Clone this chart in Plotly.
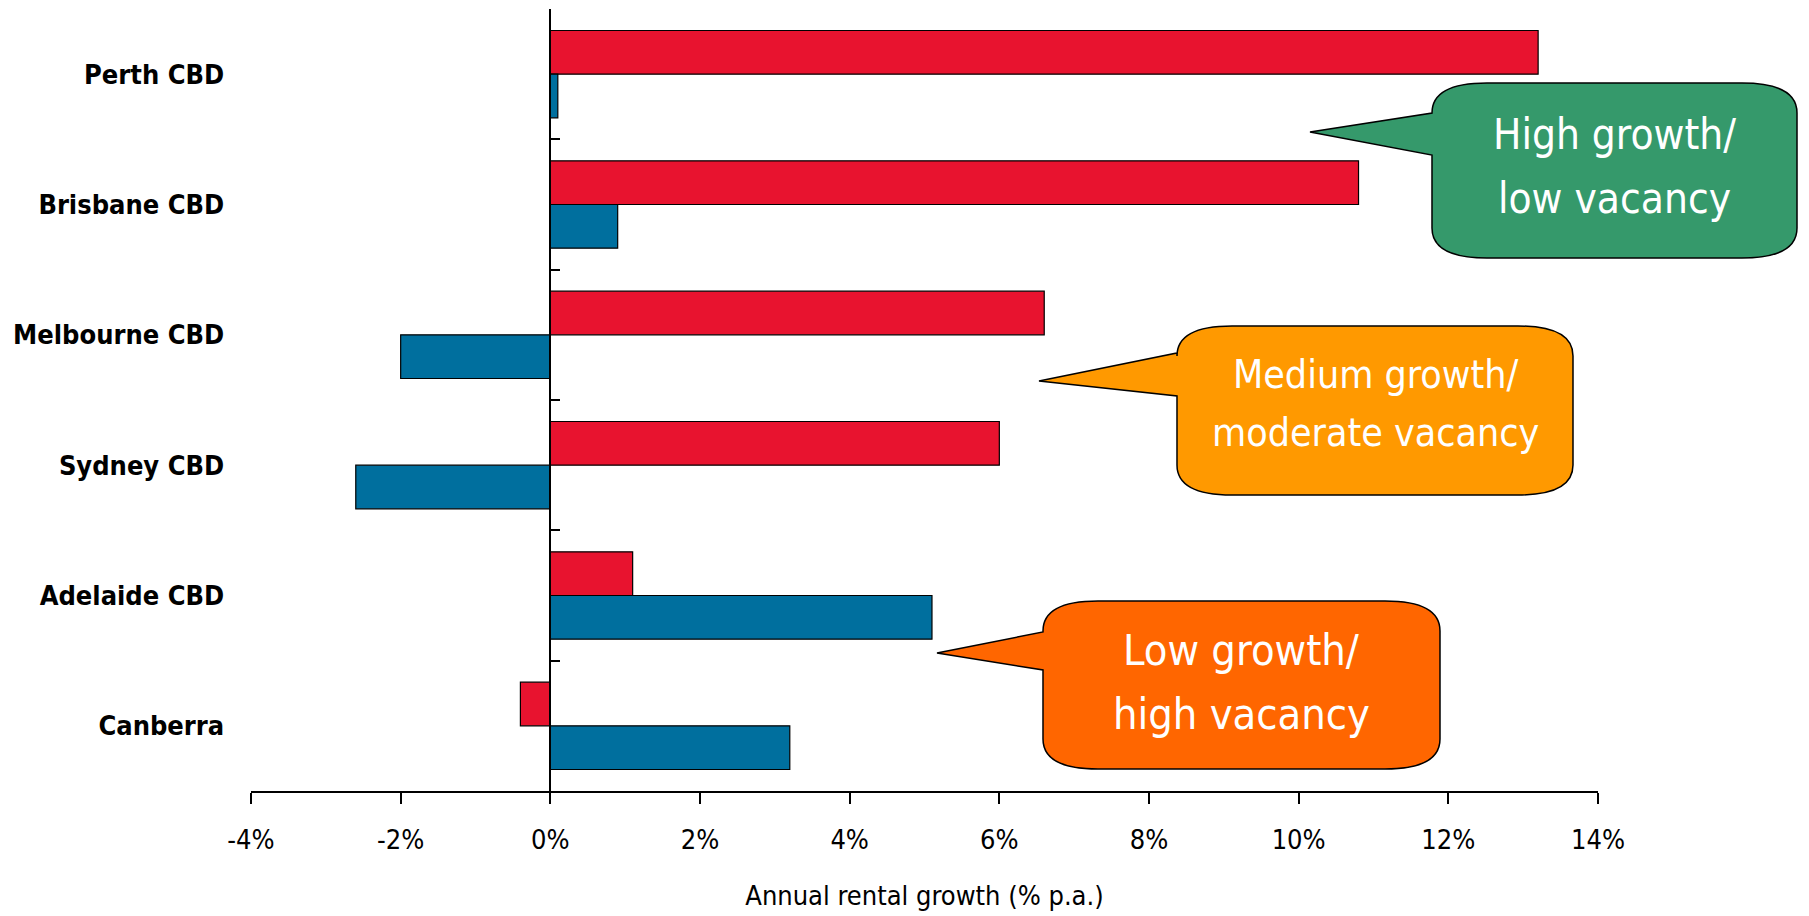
import plotly.graph_objects as go

# data (annual % change)
cities = ["Perth CBD", "Brisbane CBD", "Melbourne CBD", "Sydney CBD", "Adelaide CBD", "Canberra"]
rental_growth = [13.2, 10.8, 6.6, 6.0, 1.1, -0.4]
vacancy_series = [0.1, 0.9, -2.0, -2.6, 5.1, 3.2]
x_ticks = [-4, -2, 0, 2, 4, 6, 8, 10, 12, 14]
x_tick_text = [f"{v}%" for v in x_ticks]

W, H = 1809, 916
L, R, T, B = 251, 211, 9, 125
PW, PH = W - L - R, H - T - B

FONT = "Liberation Sans Narrow, Arial Narrow, DejaVu Sans Condensed, sans-serif"
RED = "#E8132F"
BLUE = "#006F9E"


def px(x):
    return (x - L) / PW


def py(y):
    return (H - B - y) / PH


def bubble(x0, y0, x1, y1, tip, a0, a1, rx=55, ry=30):
    # rounded box with a pointer on its left side, pixel coords -> paper
    pts = [
        ("M", [(x0 + rx, y0)]),
        ("L", [(x1 - rx, y0)]),
        ("Q", [(x1, y0), (x1, y0 + ry)]),
        ("L", [(x1, y1 - ry)]),
        ("Q", [(x1, y1), (x1 - rx, y1)]),
        ("L", [(x0 + rx, y1)]),
        ("Q", [(x0, y1), (x0, y1 - ry)]),
        ("L", [(x0, a1)]),
        ("L", [tip]),
        ("L", [(x0, a0)]),
        ("L", [(x0, y0 + ry)]),
        ("Q", [(x0, y0), (x0 + rx, y0)]),
    ]
    d = ""
    for cmd, ps in pts:
        d += cmd + " " + " ".join(f"{px(a):.5f},{py(b):.5f}" for a, b in ps) + " "
    return d + "Z"


fig = go.Figure()
fig.add_trace(go.Bar(
    y=cities, x=rental_growth, orientation="h", name="Rental growth",
    marker=dict(color=RED, line=dict(color="black", width=1.2)),
))
fig.add_trace(go.Bar(
    y=cities, x=vacancy_series, orientation="h", name="Vacancy",
    marker=dict(color=BLUE, line=dict(color="black", width=1.2)),
))

callouts = [
    dict(box=(1432, 83, 1797, 258), tip=(1310, 132), a=(113, 155), fill="#35996B",
         lines=[("High growth/", 134), ("low vacancy", 198)], size=42),
    dict(box=(1177, 326, 1573, 495), tip=(1039, 381), a=(353, 396), fill="#FF9900",
         lines=[("Medium growth/", 374), ("moderate vacancy", 432)], size=39),
    dict(box=(1043, 601, 1440, 769), tip=(937, 653), a=(632, 670), fill="#FF6600",
         lines=[("Low growth/", 650), ("high vacancy", 714)], size=43),
]
shapes, annotations = [], []
for c in callouts:
    x0, y0, x1, y1 = c["box"]
    shapes.append(dict(
        type="path", xref="paper", yref="paper",
        path=bubble(x0, y0, x1, y1, c["tip"], c["a"][0], c["a"][1]),
        fillcolor=c["fill"], line=dict(color="black", width=1.5), layer="above",
    ))
    for txt, cy in c["lines"]:
        annotations.append(dict(
            xref="paper", yref="paper", x=px((x0 + x1) / 2), y=py(cy),
            text=txt, showarrow=False, xanchor="center", yanchor="middle",
            font=dict(family=FONT, size=c["size"], color="white"),
        ))

fig.update_layout(
    width=W, height=H,
    margin=dict(l=L, r=R, t=T, b=B, autoexpand=False),
    paper_bgcolor="white", plot_bgcolor="white",
    barmode="group", bargap=0.33, bargroupgap=0,
    showlegend=False,
    font=dict(family=FONT, color="black"),
    shapes=shapes, annotations=annotations,
    xaxis=dict(
        range=[-4, 14], tickvals=x_ticks, ticktext=x_tick_text,
        showline=True, linecolor="black", linewidth=1.5,
        ticks="outside", ticklen=11, tickwidth=1.5, tickcolor="black",
        showgrid=False, zeroline=False,
        tickfont=dict(family=FONT, size=27, color="black"),
        ticklabelstandoff=13,
        title=dict(text="Annual rental growth (% p.a.)", standoff=32,
                   font=dict(family=FONT, size=27, color="black")),
        automargin=False,
    ),
    yaxis=dict(
        categoryorder="array", categoryarray=cities, autorange="reversed",
        anchor="free", position=4 / 18,
        showline=True, linecolor="black", linewidth=1.5,
        ticks="inside", tickson="boundaries", ticklen=9, tickwidth=1.5, tickcolor="black",
        showgrid=False, zeroline=False,
        tickfont=dict(family=FONT, size=27, color="black", weight="bold"),
        ticklabelstandoff=320,
        automargin=False,
    ),
)

fig.write_html(
    "out.html",
    config={"displayModeBar": False},
    post_script="document.body.style.margin='0';",
)
